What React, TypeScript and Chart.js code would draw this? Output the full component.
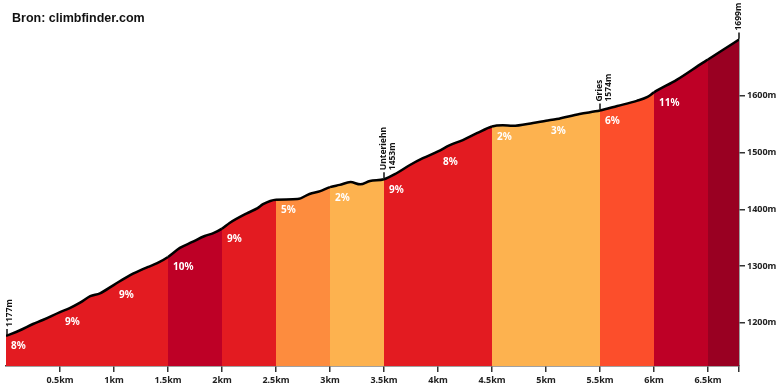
import React, { useEffect, useRef } from 'react';
import { Chart, registerables } from 'chart.js';

Chart.register(...registerables);

const TOTAL_KM = 6.787;

const distanceKm = [
  0, 0.13, 0.25, 0.34, 0.5, 0.59, 0.69, 0.78, 0.87, 1.0,
  1.15, 1.31, 1.4, 1.5, 1.61, 1.72, 1.84, 1.92, 2.0, 2.07,
  2.23, 2.33, 2.38, 2.5, 2.7, 2.81, 2.91, 3.0, 3.09, 3.19,
  3.28, 3.37, 3.5, 3.62, 3.74, 3.86, 4.0, 4.11, 4.23, 4.36,
  4.5, 4.6, 4.69, 4.88, 5.0, 5.1, 5.31, 5.5, 5.66, 5.84,
  5.94, 6.0, 6.21, 6.45, 6.5, 6.64, TOTAL_KM,
];

const elevationM = [
  1177, 1187, 1198, 1205, 1219, 1226, 1236, 1247, 1252, 1267,
  1284, 1298, 1305, 1316, 1332, 1342, 1353, 1358, 1366, 1376,
  1393, 1402, 1409, 1417, 1418, 1427, 1432, 1439, 1443, 1448,
  1444, 1450, 1453, 1464, 1478, 1490, 1502, 1513, 1522, 1534,
  1546, 1548, 1547, 1552, 1556, 1559, 1568, 1574, 1582, 1591,
  1598, 1606, 1628, 1658, 1664, 1681, 1699,
];

const sectionStartKm = [0, 0.5, 1, 1.5, 2, 2.5, 3, 3.5, 4, 4.5, 5, 5.5, 6, 6.5];
const sectionGrade = ['8%', '9%', '9%', '10%', '9%', '5%', '2%', '9%', '8%', '2%', '3%', '6%', '11%', ''];
const sectionColors = [
  '#E31B21', '#E31B21', '#E31B21', '#BE0026', '#E31B21', '#FD8C3E', '#FDB24F',
  '#E31B21', '#E31B21', '#FDB24F', '#FDB24F', '#FC4E2B', '#BE0026', '#990022',
];

const waypointKm = [0, 3.5, 5.5, TOTAL_KM];
const waypointName = ['', 'Unteriehn', 'Gries', ''];
const waypointElev = [1177, 1453, 1574, 1699];

const xTickValues = [0.5, 1, 1.5, 2, 2.5, 3, 3.5, 4, 4.5, 5, 5.5, 6, 6.5];
const xTickLabels = ['0.5km', '1km', '1.5km', '2km', '2.5km', '3km', '3.5km', '4km', '4.5km', '5km', '5.5km', '6km', '6.5km'];
const yTickValues = [1200, 1300, 1400, 1500, 1600];
const yTickLabels = ['1200m', '1300m', '1400m', '1500m', '1600m'];

const TITLE = 'Bron: climbfinder.com';

function sectionIndex(x: number): number {
  let idx = 0;
  for (let i = 0; i < sectionStartKm.length; i++) {
    if (sectionStartKm[i] <= x + 1e-9) idx = i;
  }
  return idx;
}

function elevAt(km: number): number {
  const i = distanceKm.findIndex((d) => Math.abs(d - km) < 1e-9);
  return i >= 0 ? elevationM[i] : elevationM[0];
}

const overlayPlugin = {
  id: 'overlay',
  afterDatasetsDraw(chart: any) {
    const ctx = chart.ctx as CanvasRenderingContext2D;
    const xs = chart.scales.x;
    const ys = chart.scales.y;
    ctx.save();
    ctx.font = 'bold 10px "Noto Sans"';
    ctx.fillStyle = '#ffffff';
    ctx.textAlign = 'left';
    ctx.textBaseline = 'middle';
    sectionStartKm.forEach((km, i) => {
      const t = sectionGrade[i];
      if (!t) return;
      const px = xs.getPixelForValue(km) + 5;
      const py = ys.getPixelForValue(elevAt(km)) + 10.5;
      ctx.fillText(t, px, py);
    });
    ctx.restore();
  },
  afterDraw(chart: any) {
    const ctx = chart.ctx as CanvasRenderingContext2D;
    const xs = chart.scales.x;
    const ys = chart.scales.y;
    ctx.save();
    ctx.font = 'bold 12.5px "Liberation Sans"';
    ctx.fillStyle = '#111111';
    ctx.textAlign = 'left';
    ctx.textBaseline = 'alphabetic';
    ctx.fillText(TITLE, 12, 22);

    ctx.strokeStyle = '#111111';
    ctx.lineWidth = 1.5;
    waypointKm.forEach((km, i) => {
      const px = xs.getPixelForValue(km);
      const py = ys.getPixelForValue(waypointElev[i]);
      const tx = Math.max(px, 7);
      ctx.beginPath();
      ctx.moveTo(tx, py - 1);
      ctx.lineTo(tx, py - 7);
      ctx.stroke();
      const cx = Math.max(px, 9.5);
      ctx.save();
      ctx.translate(cx, py - 9);
      ctx.rotate(-Math.PI / 2);
      ctx.font = 'bold 8.5px "Noto Sans"';
      ctx.fillStyle = '#111111';
      ctx.textAlign = 'left';
      ctx.textBaseline = 'middle';
      const lines = waypointName[i] ? [waypointName[i], `${waypointElev[i]}m`] : [`${waypointElev[i]}m`];
      lines.forEach((t, j) => ctx.fillText(t, 0, j * 9));
      ctx.restore();
    });
    ctx.restore();
  },
};

export default function App() {
  const ref = useRef<HTMLCanvasElement | null>(null);

  useEffect(() => {
    if (!ref.current) return;
    const chart = new Chart(ref.current, {
      type: 'line',
      data: {
        datasets: [
          {
            data: distanceKm.map((d, i) => ({ x: d, y: elevationM[i] })),
            borderColor: '#000000',
            borderWidth: 2.5,
            pointRadius: 0,
            cubicInterpolationMode: 'monotone',
            fill: 'start',
            backgroundColor: sectionColors[0],
            segment: {
              backgroundColor: (c: any) => sectionColors[sectionIndex(c.p0.parsed.x)],
            },
          } as any,
        ],
      },
      options: {
        responsive: false,
        animation: false,
        devicePixelRatio: 1,
        layout: { padding: { left: 6, top: 39, right: 0, bottom: 0 } },
        plugins: {
          legend: { display: false },
          tooltip: { enabled: false },
          title: { display: false },
        },
        scales: {
          x: {
            type: 'linear',
            min: 0,
            max: TOTAL_KM,
            afterBuildTicks: (s: any) => {
              s.ticks = [...xTickValues, TOTAL_KM].map((v) => ({ value: v }));
            },
            afterFit: (s: any) => {
              s.height = 24;
            },
            ticks: {
              autoSkip: false,
              maxRotation: 0,
              padding: 3,
              color: '#222222',
              font: { family: '"Noto Sans"', size: 9, weight: 'bold' },
              callback: (v: any) => {
                const i = xTickValues.findIndex((t) => Math.abs(t - Number(v)) < 1e-9);
                return i >= 0 ? xTickLabels[i] : '';
              },
            },
            grid: {
              display: true,
              drawOnChartArea: false,
              drawTicks: true,
              tickLength: 6,
              color: '#333333',
              lineWidth: 1.5,
            },
            border: { display: true, color: '#444444', width: 1.5 },
          },
          y: {
            type: 'linear',
            position: 'right',
            min: 1124,
            max: 1700,
            afterBuildTicks: (s: any) => {
              s.ticks = yTickValues.map((v) => ({ value: v }));
            },
            afterFit: (s: any) => {
              s.width = 41;
            },
            ticks: {
              padding: 2,
              color: '#222222',
              font: { family: '"Noto Sans"', size: 9, weight: 'bold' },
              callback: (v: any) => {
                const i = yTickValues.indexOf(Number(v));
                return i >= 0 ? yTickLabels[i] : '';
              },
            },
            grid: {
              display: true,
              drawOnChartArea: false,
              drawTicks: true,
              tickLength: 6,
              color: '#333333',
              lineWidth: 1.5,
            },
            border: { display: true, color: '#444444', width: 1.5 },
          },
        },
      },
      plugins: [overlayPlugin],
    });
    return () => chart.destroy();
  }, []);

  return (
    <div style={{ position: 'fixed', left: 0, top: 0, width: 780, height: 390, background: '#ffffff' }}>
      <canvas ref={ref} width={780} height={390} style={{ width: 780, height: 390, display: 'block' }} />
    </div>
  );
}
